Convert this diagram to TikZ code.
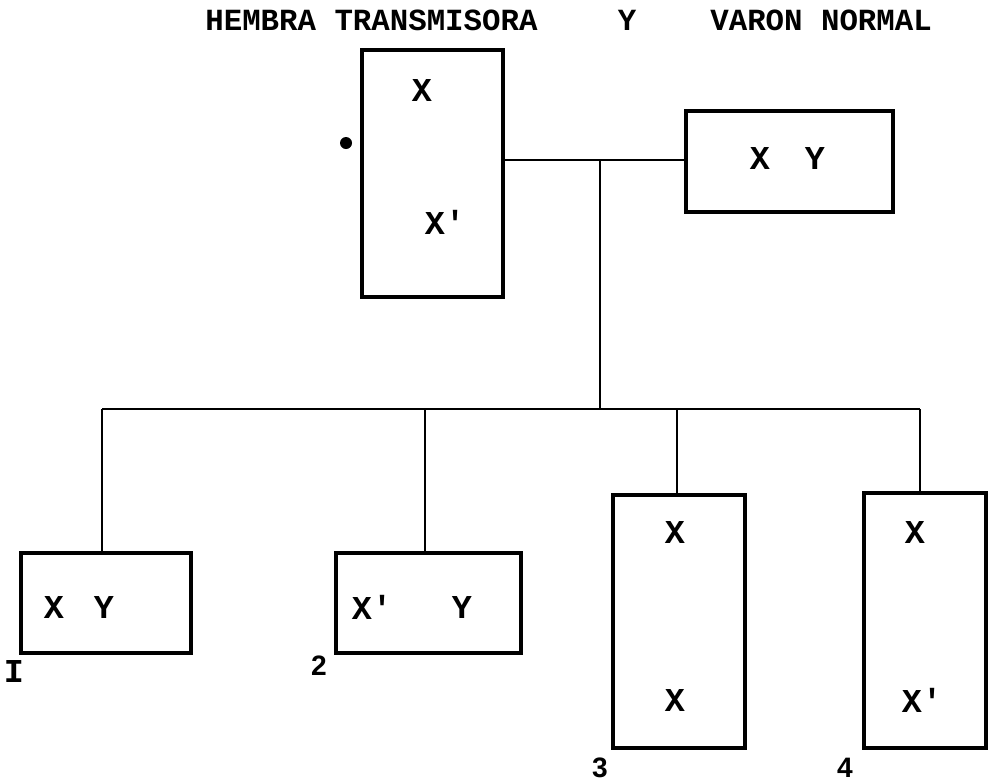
\documentclass[tikz,border=0pt]{standalone}
\usepackage{fontspec}
\newfontfamily\maquina{Liberation Mono}
\newfontfamily\rotulo{Liberation Sans}
\begin{document}
\begin{tikzpicture}[x=0.2mm,y=-0.2mm,
  every node/.style={inner sep=0pt},
  caja/.style={draw,line width=2pt},
  linea/.style={line width=1.6pt},
  titulo/.style={font=\maquina\bfseries\fontsize{17.5}{19}\selectfont},
  gen/.style={font=\maquina\bfseries\fontsize{19}{21}\selectfont},
  num/.style={font=\rotulo\bfseries\fontsize{16}{18}\selectfont}]
\useasboundingbox (0,0) rectangle (989,783);
% titulo
\node[titulo,anchor=west] (tmadre) at (205,20) {HEMBRA TRANSMISORA};
\node[titulo] (ty) at (627,20) {Y};
\node[titulo,anchor=west] (tpadre) at (710,20) {VARON NORMAL};
% padres
\node[caja,minimum width=28.2mm,minimum height=49.4mm] (madre) at (432.5,173.5) {};
\node[caja,minimum width=41.4mm,minimum height=20.2mm] (padre) at (789.5,161.5) {};
\fill (346,143) circle (1.2mm);
\node[gen] (m1) at (422,90) {X};
\node[gen] (m2) at (445,222) {X'};
\node[gen] (p1) at (760,158) {X};
\node[gen] (p2) at (815,158) {Y};
% hijos
\node[caja,minimum width=34mm,minimum height=20mm] (hijo1) at (106,603) {};
\node[caja,minimum width=37mm,minimum height=20mm] (hijo2) at (428.5,603) {};
\node[caja,minimum width=26.4mm,minimum height=50.6mm] (hijo3) at (679,621.5) {};
\node[caja,minimum width=24.4mm,minimum height=51mm] (hijo4) at (925,620.5) {};
\node[gen] (a1) at (54,607) {X};
\node[gen] (a2) at (104,607) {Y};
\node[gen] (b1) at (372,607) {X'};
\node[gen] (b2) at (462,607) {Y};
\node[gen] (c1) at (675,532) {X};
\node[gen] (c2) at (675,700) {X};
\node[gen] (d1) at (915,532) {X};
\node[gen] (d2) at (922,700) {X'};
\node[gen] (n1) at (14,671) {I};
\node[num] (n2) at (319,666) {2};
\node[num] (n3) at (600,768) {3};
\node[num] (n4) at (845,768) {4};
% lineas
\coordinate (union) at (600,160);
\coordinate (hermanos) at (600,409);
\coordinate (h1) at (102,409);
\coordinate (h2) at (425,409);
\coordinate (h3) at (677,409);
\coordinate (h4) at (920,409);
\draw[linea] (madre.east |- union) -- (padre.west |- union);
\draw[linea] (union) -- (hermanos);
\draw[linea] (h1) -- (h4);
\draw[linea] (h1) -- (hijo1.north -| h1);
\draw[linea] (h2) -- (hijo2.north -| h2);
\draw[linea] (h3) -- (hijo3.north -| h3);
\draw[linea] (h4) -- (hijo4.north -| h4);
\end{tikzpicture}
\end{document}
